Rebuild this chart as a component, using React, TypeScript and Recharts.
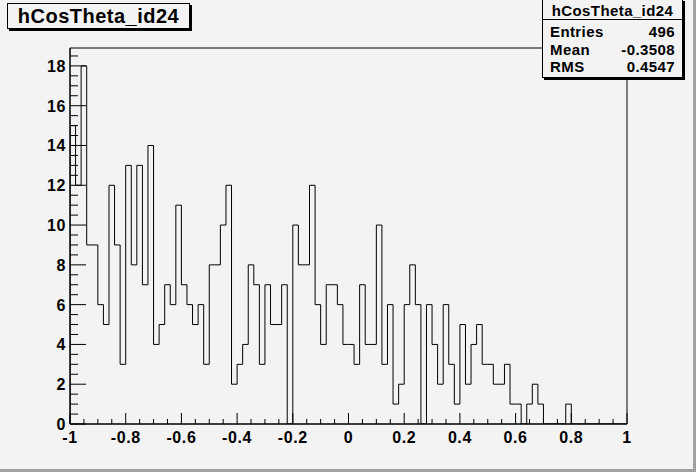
import { ComposedChart, Line, XAxis, YAxis, ReferenceArea } from 'recharts';

// hCosTheta_id24: 100 bins in [-1, 1]
const binCounts = [
  15, 12, 18, 9, 9, 6, 5, 12, 9, 3, 13, 8, 13, 7, 14, 4, 5,
  7, 6, 11, 7, 6, 5, 6, 3, 8, 8, 10, 12, 2, 3, 4, 8, 7,
  3, 7, 5, 5, 7, 0, 10, 8, 8, 12, 6, 4, 7, 7, 6, 4, 4,
  3, 7, 4, 4, 10, 3, 6, 1, 2, 6, 8, 6, 0, 6, 4, 2, 6,
  3, 1, 5, 2, 4, 5, 3, 3, 2, 2, 3, 1, 1, 0, 1, 2, 1, 0, 0, 0, 0, 1,
  0, 0, 0, 0, 0, 0, 0, 0, 0, 0,
];
const xRange = [-1, 1];
const xMajorTicks = [-1, -0.8, -0.6, -0.4, -0.2, 0, 0.2, 0.4, 0.6, 0.8, 1];
const yMajorTicks = [0, 2, 4, 6, 8, 10, 12, 14, 16, 18];
const yMax = 18.9;

const statsRows = [
  ['Entries', '496'],
  ['Mean', '-0.3508'],
  ['RMS', '0.4547'],
];

const W = 696;
const H = 472;
const PL = 70;
const PR = 627;
const PT = 48;
const PB = 424;
const BG = '#f3f3f3';
const FONT = '"Liberation Sans", Arial, Helvetica, sans-serif';

const binWidth = (xRange[1] - xRange[0]) / binCounts.length;
const steps = [
  { x: xRange[0], y: 0 },
  ...binCounts.map((c, i) => ({ x: xRange[0] + i * binWidth, y: c })),
  { x: xRange[1], y: binCounts[binCounts.length - 1] },
  { x: xRange[1], y: 0 },
];

// secondary ticks: 4 per x division, 4 per y division
const xAllTicks: number[] = [];
for (let i = 0; i < xMajorTicks.length - 1; i++) {
  const a = xMajorTicks[i];
  const b = xMajorTicks[i + 1];
  for (let k = 0; k < 4; k++) xAllTicks.push(a + ((b - a) * k) / 4);
}
xAllTicks.push(xMajorTicks[xMajorTicks.length - 1]);
const yAllTicks: number[] = [];
for (let v = 0; v < yMax; v += 0.5) yAllTicks.push(v);

const isMajorX = (v: number) => xMajorTicks.some((t) => Math.abs(t - v) < 1e-6);
const isMajorY = (v: number) => yMajorTicks.some((t) => Math.abs(t - v) < 1e-6);

const XTick = (props: any) => {
  const { x, payload } = props;
  const v = payload.value as number;
  const major = isMajorX(v);
  const label = xMajorTicks.find((t) => Math.abs(t - v) < 1e-6);
  return (
    <g>
      <line x1={x} x2={x} y1={PB} y2={PB - (major ? 11 : 5)} stroke="#000" strokeWidth={1} />
      {major && (
        <text
          x={x}
          y={PB + 19}
          textAnchor="middle"
          fontFamily={FONT}
          fontWeight="bold"
          fontSize={16}
          letterSpacing={0.6}
          fill="#000"
        >
          {String(label)}
        </text>
      )}
    </g>
  );
};

const YTick = (props: any) => {
  const { y, payload } = props;
  const v = payload.value as number;
  const major = isMajorY(v);
  return (
    <g>
      <line x1={PL} x2={PL + (major ? 16 : 8)} y1={y} y2={y} stroke="#000" strokeWidth={1} />
      {major && (
        <text
          x={PL - 4}
          y={y + 6}
          textAnchor="end"
          fontFamily={FONT}
          fontWeight="bold"
          fontSize={16}
          letterSpacing={0.6}
          fill="#000"
        >
          {String(v)}
        </text>
      )}
    </g>
  );
};

export default function App() {
  return (
    <div
      style={{
        position: 'absolute',
        left: 0,
        top: 0,
        width: W,
        height: H,
        background: BG,
        overflow: 'hidden',
        fontFamily: FONT,
      }}
    >
      <ComposedChart
        width={W}
        height={H}
        data={steps}
        margin={{ top: PT, right: W - PR, bottom: 0, left: 0 }}
      >
        <XAxis
          type="number"
          dataKey="x"
          domain={xRange}
          ticks={xAllTicks}
          interval={0}
          height={H - PB}
          allowDataOverflow
          axisLine={{ stroke: '#000' }}
          tickLine={false}
          tick={<XTick />}
        />
        <YAxis
          type="number"
          domain={[0, yMax]}
          ticks={yAllTicks}
          interval={0}
          width={PL}
          allowDataOverflow
          axisLine={{ stroke: '#000' }}
          tickLine={false}
          tick={<YTick />}
        />
        <ReferenceArea
          x1={xRange[0]}
          x2={xRange[1]}
          y1={0}
          y2={yMax}
          fill="none"
          stroke="#000"
          strokeWidth={1}
          ifOverflow="visible"
        />
        <Line
          type="stepAfter"
          dataKey="y"
          stroke="#000"
          strokeWidth={1}
          dot={false}
          isAnimationActive={false}
        />
      </ComposedChart>

      {/* title pave */}
      <div
        style={{
          position: 'absolute',
          left: 7,
          top: 3,
          width: 181,
          height: 24,
          border: '1px solid #000',
          boxShadow: '2px 2px 0 #000',
          background: BG,
          display: 'flex',
          alignItems: 'center',
          justifyContent: 'center',
          fontWeight: 'bold',
          fontSize: 20,
          letterSpacing: 0.5,
          color: '#000',
        }}
      >
        hCosTheta_id24
      </div>

      {/* stats box */}
      <div
        style={{
          position: 'absolute',
          left: 542,
          top: -1,
          width: 139,
          height: 77,
          border: '1px solid #000',
          boxShadow: '2px 2px 0 #000',
          background: BG,
          fontWeight: 'bold',
          fontSize: 15,
          letterSpacing: 0.4,
          color: '#000',
        }}
      >
        <div
          style={{
            height: 19,
            borderBottom: '1px solid #000',
            textAlign: 'center',
            lineHeight: '21px',
          }}
        >
          hCosTheta_id24
        </div>
        <div style={{ paddingTop: 3 }}>
          {statsRows.map(([k, v]) => (
            <div
              key={k}
              style={{
                display: 'flex',
                justifyContent: 'space-between',
                height: 17.5,
                lineHeight: '17.5px',
                padding: '0 7px 0 7px',
              }}
            >
              <span>{k}</span>
              <span>{v}</span>
            </div>
          ))}
        </div>
      </div>

      {/* canvas bevel */}
      <div style={{ position: 'absolute', left: 0, bottom: 0, width: W, height: 3, background: '#a0a0a0' }} />
      <div style={{ position: 'absolute', right: 0, top: 0, width: 3, height: H, background: '#a0a0a0' }} />
    </div>
  );
}
